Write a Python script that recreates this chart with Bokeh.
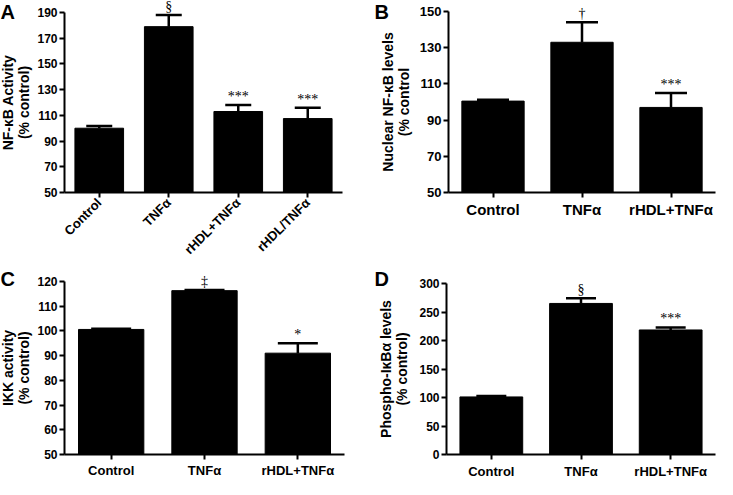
import math
from bokeh.plotting import figure
from bokeh.models import (ColumnDataSource, Whisker, TeeHead, LabelSet, Label,
                          Range1d, FixedTicker)
from bokeh.layouts import column, row
from bokeh.embed import file_html
from bokeh.resources import INLINE

FONT = "Liberation Sans"

# ---- data ----
a_cats = ["Control", "TNFα", "rHDL+TNFα", "rHDL/TNFα"]
a_vals = [100.0, 179.0, 113.0, 107.5]
a_errs = [101.8, 188.0, 118.0, 116.0]
a_marks = ["", "§", "***", "***"]
a_ticks = [50, 70, 90, 110, 130, 150, 170, 190]

b_cats = ["Control", "TNFα", "rHDL+TNFα"]
b_vals = [100.5, 133.0, 97.0]
b_errs = [101.3, 144.0, 105.0]
b_marks = ["", "†", "***"]
b_ticks = [50, 70, 90, 110, 130, 150]

c_cats = ["Control", "TNFα", "rHDL+TNFα"]
c_vals = [100.6, 116.3, 91.0]
c_errs = [100.9, 116.6, 95.0]
c_marks = ["", "‡", "*"]
c_ticks = [50, 60, 70, 80, 90, 100, 110, 120]

d_cats = ["Control", "TNFα", "rHDL+TNFα"]
d_vals = [101.0, 265.0, 218.5]
d_errs = [102.5, 274.0, 223.0]
d_marks = ["", "§", "***"]
d_ticks = [0, 50, 100, 150, 200, 250, 300]


def panel(cats, vals, errs, marks, ticks, ylabel, letter,
          W, H, x0_px, x1_px, yhi_px, ylo_px, cap, xlab_size, ytick_size,
          rotate=False, letter_x=0, letter_top=0, label_standoff=3, ylab_standoff=2):
    """x0_px/x1_px: canvas x of the y axis and of the x axis end;
    yhi_px/ylo_px: canvas y (from top) of the top and bottom ticks."""
    n = len(cats)
    xs = [i + 0.5 for i in range(n)]
    src = ColumnDataSource(dict(x=xs, vals=vals, errs=errs, marks=marks))
    lo, hi = ticks[0], ticks[-1]
    # the frame covers the whole canvas; both axes are pinned inside it
    ppx = (x1_px - x0_px) / n
    ppy = (ylo_px - yhi_px) / (hi - lo)
    x_range = Range1d(-x0_px / ppx, n + (W - x1_px) / ppx)
    y_range = Range1d(lo - (H - ylo_px) / ppy, hi + yhi_px / ppy)
    p = figure(x_range=x_range, y_range=y_range, width=W, height=H,
               min_border_left=0, min_border_right=0, min_border_top=0,
               min_border_bottom=0, output_backend="svg", toolbar_location=None)
    p.vbar(x="x", top="vals", bottom=lo, width=0.7, source=src,
           fill_color="black", line_color="black")
    w = Whisker(source=src, base="x", upper="errs", lower="vals", dimension="height",
                line_width=2.5, line_color="black",
                upper_head=TeeHead(size=cap, line_width=2.5, line_color="black"),
                lower_head=None)
    p.add_layout(w)
    ls = LabelSet(x="x", y="errs", text="marks", source=src, text_align="center",
                  text_baseline="alphabetic", y_offset=4, text_font=FONT,
                  text_font_size="14px", text_color="black")
    p.add_layout(ls)
    p.outline_line_color = None
    p.xgrid.visible = False
    p.ygrid.visible = False

    p.xaxis.ticker = FixedTicker(ticks=xs)
    p.xaxis.major_label_overrides = {x: c for x, c in zip(xs, cats)}
    p.xaxis.bounds = (0, n)
    p.xaxis.fixed_location = lo
    p.yaxis.ticker = FixedTicker(ticks=ticks)
    p.yaxis.bounds = (lo, hi)
    p.yaxis.fixed_location = 0
    for ax in (p.xaxis[0], p.yaxis[0]):
        ax.axis_line_width = 2
        ax.axis_line_color = "black"
        ax.major_tick_line_width = 2
        ax.major_tick_line_color = "black"
        ax.major_tick_in = 0
        ax.major_tick_out = 5
        ax.minor_tick_line_color = None
        ax.major_label_text_font = FONT
        ax.major_label_text_font_style = "bold"
        ax.major_label_text_color = "black"
    p.yaxis.major_label_text_font_size = ytick_size
    p.yaxis.major_label_standoff = 2
    p.xaxis.major_label_text_font_size = xlab_size
    p.xaxis.major_label_standoff = label_standoff
    if rotate:
        p.xaxis.major_label_orientation = math.pi / 4
    p.yaxis.axis_label = ylabel
    p.yaxis.axis_label_text_font = FONT
    p.yaxis.axis_label_text_font_style = "bold"
    p.yaxis.axis_label_text_font_size = "14px"
    p.yaxis.axis_label_text_line_height = 1.0
    p.yaxis.axis_label_text_color = "black"
    p.yaxis.axis_label_standoff = ylab_standoff
    # panel letter; "screen" units are measured from the frame's bottom-left
    p.add_layout(Label(x=letter_x, y=H - letter_top,
                       x_units="screen", y_units="screen",
                       text=letter, text_font=FONT, text_font_style="bold",
                       text_font_size="20px", text_baseline="top", text_color="black"))
    return p


H1, H2 = 264, 215
WA, WB = 370, 347
pa = panel(a_cats, a_vals, a_errs, a_marks, a_ticks, "NF-κB Activity\n(% control)", "A",
           WA, H1, 64, 342, 12, 192, 26, "13px", "12px", rotate=True,
           letter_x=0, letter_top=0, ylab_standoff=2)
pb = panel(b_cats, b_vals, b_errs, b_marks, b_ticks, "Nuclear NF-κB levels\n(% control", "B",
           WB, H1, 78, 345, 11, 192, 32, "15px", "13px", letter_x=4, letter_top=0,
           ylab_standoff=5)
pc = panel(c_cats, c_vals, c_errs, c_marks, c_ticks, "IKK activity\n(% control)", "C",
           WA, H2, 64, 344, 17, 190, 40, "13px", "12px", letter_x=0, letter_top=3,
           ylab_standoff=2)
pd = panel(d_cats, d_vals, d_errs, d_marks, d_ticks, "Phospho-IκBα levels\n(% control)", "D",
           WB, H2, 76, 345, 19, 190, 30, "13px", "12px", letter_x=4, letter_top=3,
           label_standoff=4, ylab_standoff=6)

layout = column(row(pa, pb), row(pc, pd))
open("out.html", "w").write(file_html(layout, INLINE))
